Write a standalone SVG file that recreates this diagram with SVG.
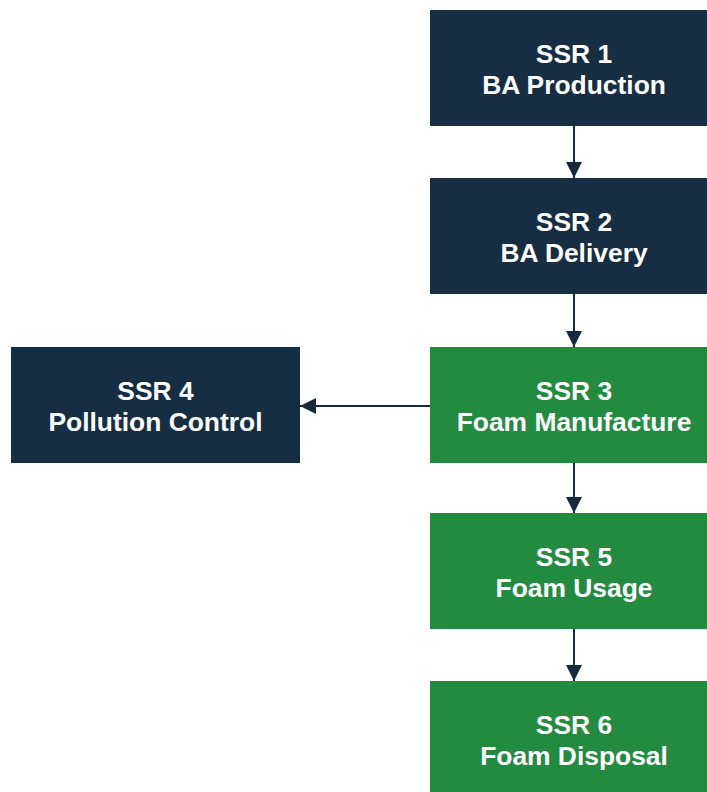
<svg xmlns="http://www.w3.org/2000/svg" width="707" height="792" viewBox="0 0 707 792">
<style>
.navy{fill:#152e43}
.green{fill:#228b3f}
.lbl{font-family:"Liberation Sans",Arial,sans-serif;font-weight:bold;font-size:26.4px;fill:#ffffff;text-anchor:middle}
.conn{stroke:#152a3d;stroke-width:2;fill:none}
</style>
<defs>
<marker id="ah" viewBox="0 0 16 16" refX="16" refY="8" markerWidth="16" markerHeight="16" markerUnits="userSpaceOnUse" orient="auto">
<path d="M0,0 L16,8 L0,16 Z" fill="#152a3d"/>
</marker>
</defs>
<rect width="707" height="792" fill="#ffffff"/>
<g id="connectors">
<line class="conn" x1="574" y1="126" x2="574" y2="178" marker-end="url(#ah)"/>
<line class="conn" x1="574" y1="294" x2="574" y2="347" marker-end="url(#ah)"/>
<line class="conn" x1="430" y1="406" x2="300" y2="406" marker-end="url(#ah)"/>
<line class="conn" x1="574" y1="463" x2="574" y2="513" marker-end="url(#ah)"/>
<line class="conn" x1="574" y1="629" x2="574" y2="681" marker-end="url(#ah)"/>
</g>
<g id="ssr1">
<rect class="navy" x="430" y="10" width="289" height="116"/>
<text class="lbl" x="574" y="63">SSR 1</text>
<text class="lbl" x="574" y="94">BA Production</text>
</g>
<g id="ssr2">
<rect class="navy" x="430" y="178" width="289" height="116"/>
<text class="lbl" x="574" y="231">SSR 2</text>
<text class="lbl" x="574" y="262">BA Delivery</text>
</g>
<g id="ssr3">
<rect class="green" x="430" y="347" width="289" height="116"/>
<text class="lbl" x="574" y="400">SSR 3</text>
<text class="lbl" x="574" y="431">Foam Manufacture</text>
</g>
<g id="ssr4">
<rect class="navy" x="11" y="347" width="289" height="116"/>
<text class="lbl" x="155.5" y="400">SSR 4</text>
<text class="lbl" x="155.5" y="431">Pollution Control</text>
</g>
<g id="ssr5">
<rect class="green" x="430" y="513" width="289" height="116"/>
<text class="lbl" x="574" y="566">SSR 5</text>
<text class="lbl" x="574" y="597">Foam Usage</text>
</g>
<g id="ssr6">
<rect class="green" x="430" y="681" width="289" height="116"/>
<text class="lbl" x="574" y="734">SSR 6</text>
<text class="lbl" x="574" y="765">Foam Disposal</text>
</g>
</svg>
